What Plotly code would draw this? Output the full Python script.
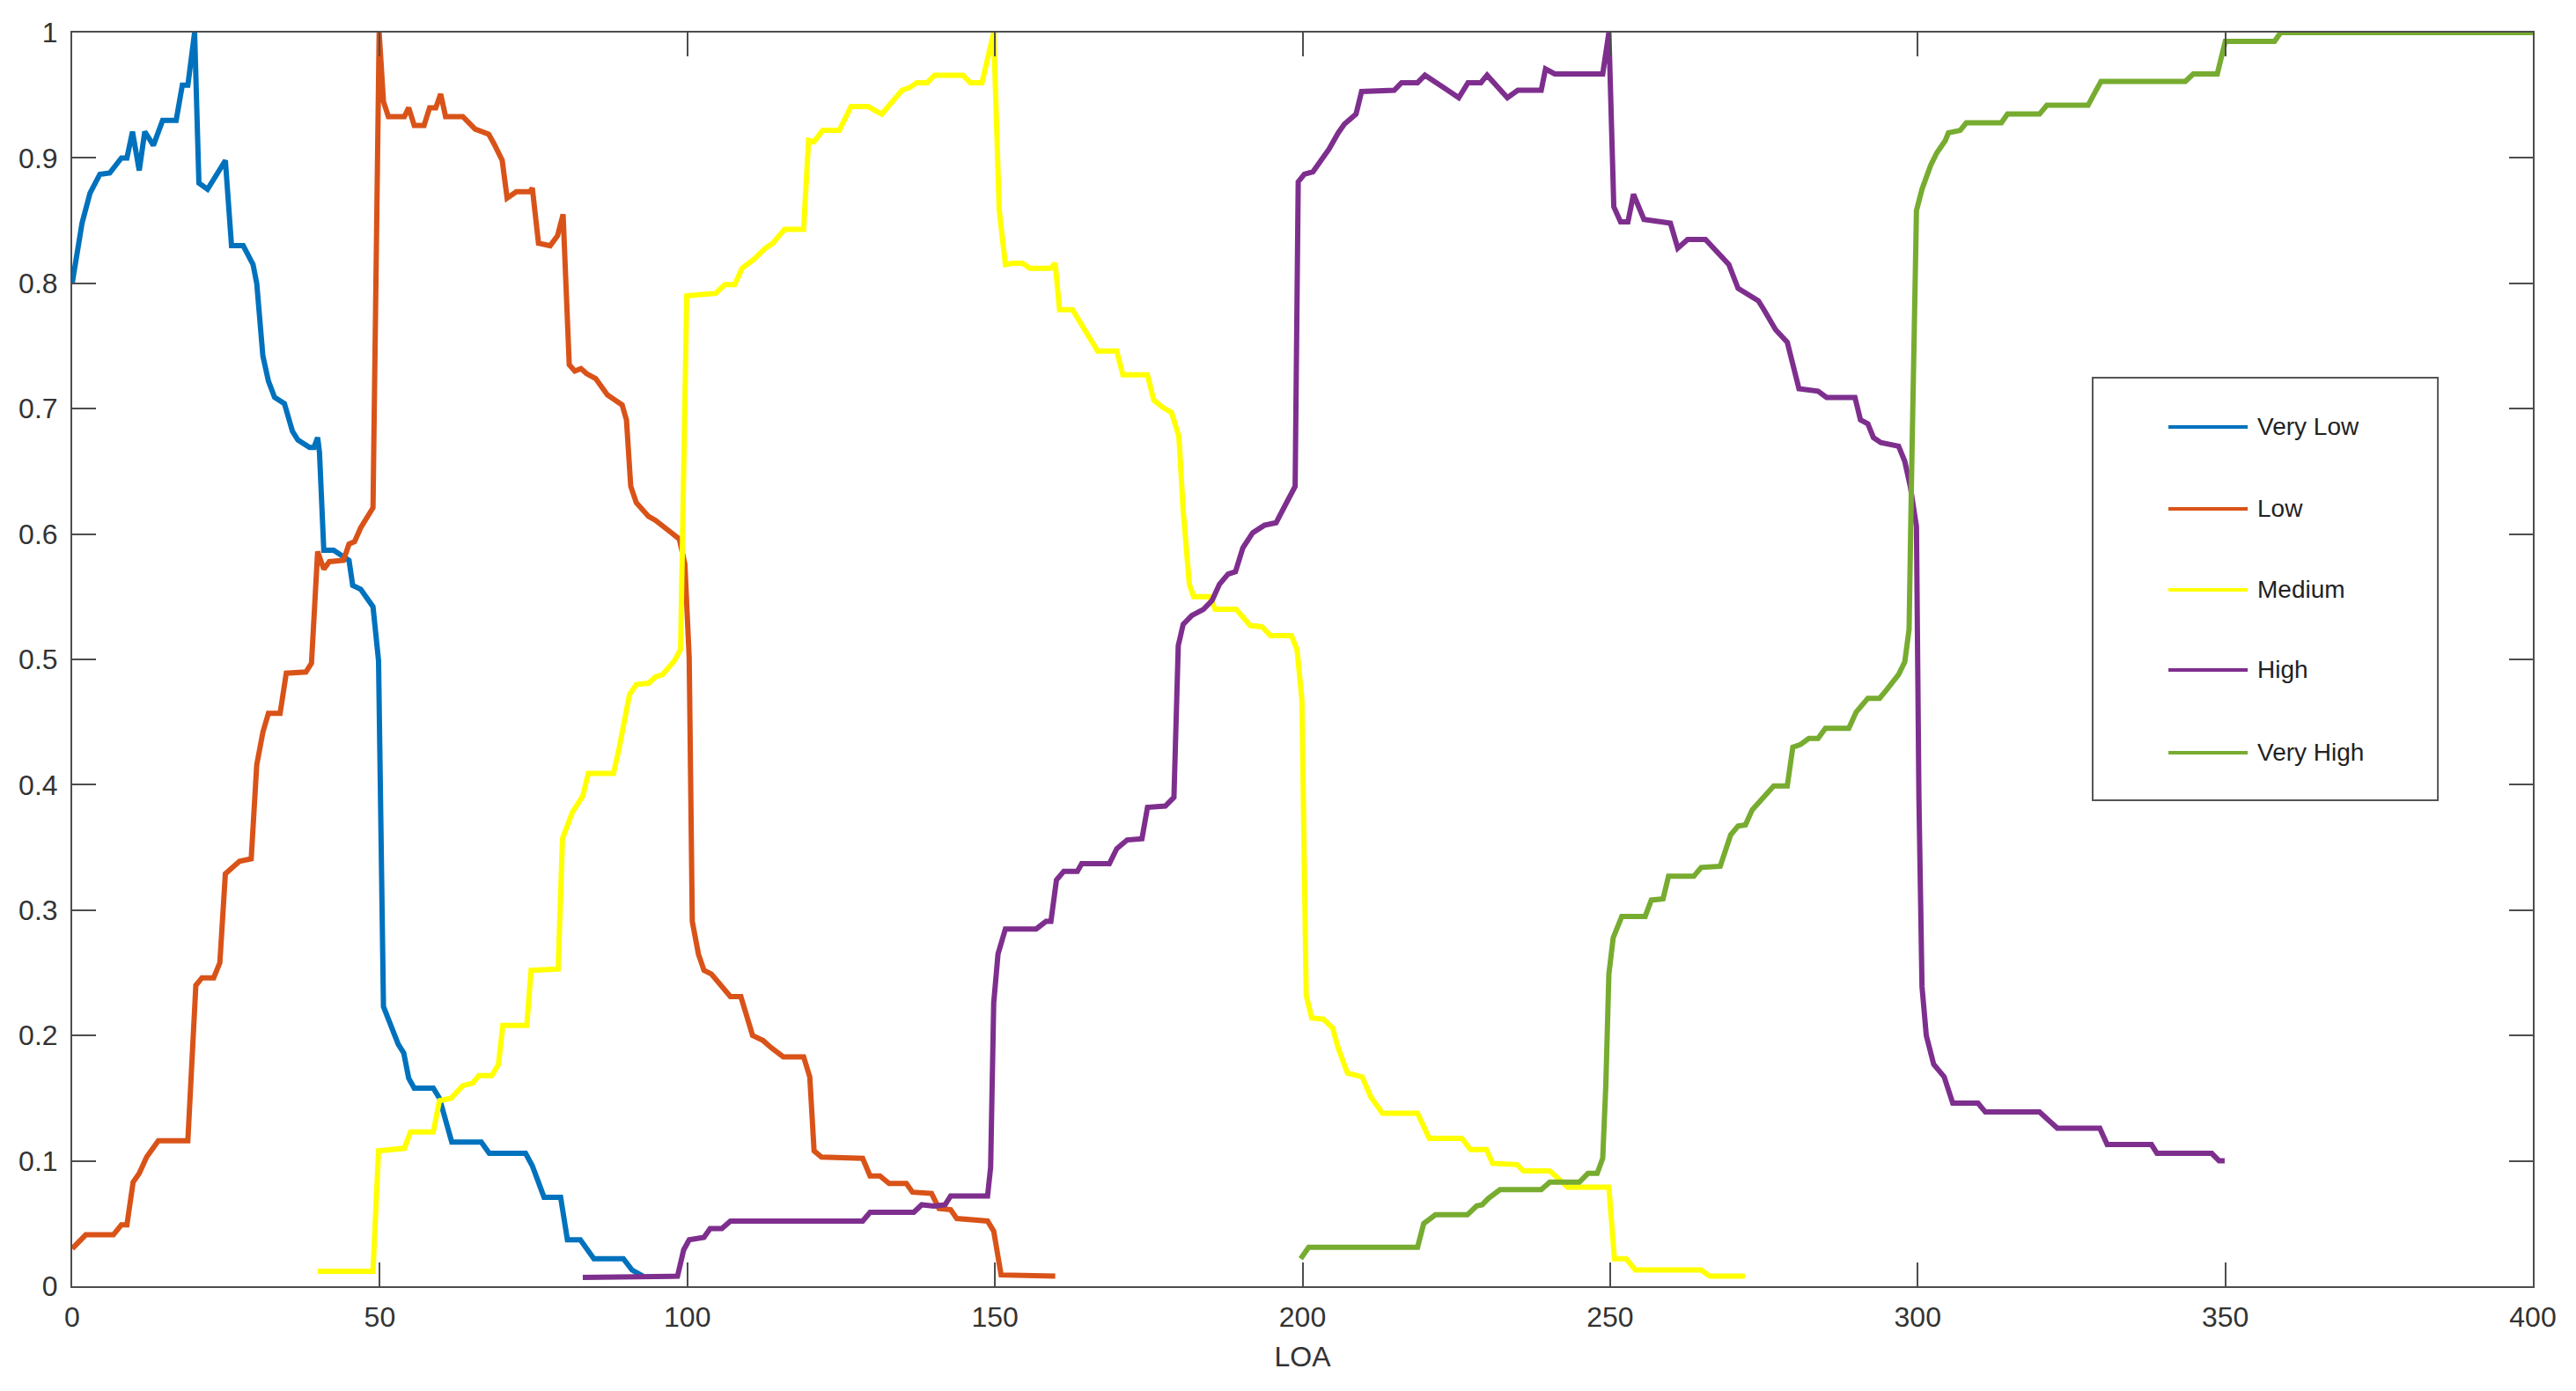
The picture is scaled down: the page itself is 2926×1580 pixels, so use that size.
import plotly.graph_objects as go

# membership curves
very_low_x = [0, 1.6, 2.9, 4.5, 6.1, 8.0, 8.9, 9.8, 10.9, 11.8, 13.2, 14.7, 16.9, 17.9, 18.8, 19.9, 20.6, 22.0, 24.9, 25.9,
              27.8, 29.4, 30.0, 31.0, 31.9, 32.9, 34.5, 35.8, 36.7, 38.6, 39.3, 39.9, 40.2, 40.9, 42.5, 45.0, 45.6, 46.9, 48.9, 49.8,
              50.6, 51.7, 53.0, 53.9, 54.7, 55.6, 58.7, 59.7, 60.7, 61.7, 66.5, 67.8, 73.7, 74.8, 76.7, 79.4, 80.5, 82.6, 84.8, 89.6,
              91.0, 92.8]
very_low_y = [0.80, 0.848, 0.872, 0.887, 0.888, 0.90, 0.90, 0.921, 0.89, 0.921, 0.91, 0.93, 0.93, 0.958, 0.958, 1.0, 0.88, 0.875, 0.898, 0.83,
              0.83, 0.815, 0.80, 0.742, 0.722, 0.709, 0.704, 0.682, 0.675, 0.669, 0.669, 0.677, 0.665, 0.587, 0.587, 0.579, 0.559, 0.556, 0.542, 0.499,
              0.223, 0.21, 0.193, 0.186, 0.166, 0.158, 0.158, 0.15, 0.133, 0.115, 0.115, 0.106, 0.106, 0.096, 0.071, 0.071, 0.037, 0.037, 0.022, 0.022,
              0.013, 0.008]

low_x = [0, 2.2, 6.7, 8.0, 8.9, 9.9, 10.9, 12.1, 14.0, 18.8,
         20.1, 21.1, 23.0, 24.0, 24.9, 27.2, 29.1, 30.0, 31.0, 31.9,
         33.8, 34.8, 38.0, 38.9, 39.9, 40.9, 41.8, 44.1, 45.0, 45.9,
         46.9, 48.9, 49.9, 50.6, 51.4, 54.0, 54.7, 55.6, 57.2, 58.1,
         59.1, 59.9, 60.7, 63.5, 65.5, 67.7, 68.6, 69.9, 70.7, 72.2,
         74.4, 74.8, 75.8, 77.7, 78.9, 79.8, 80.8, 81.7, 82.7, 83.6,
         85.1, 87.0, 88.2, 89.4, 90.1, 90.8, 91.7, 93.7, 94.8, 96.0,
         97.9, 98.7, 99.6, 100.3, 100.8, 101.8, 102.7, 103.9, 107.0, 108.7,
         110.6, 112.3, 113.7, 115.6, 118.9, 119.9, 120.6, 121.8, 128.5, 129.7,
         131.3, 132.8, 135.6, 136.6, 139.7, 140.9, 142.8, 143.8, 148.8, 149.8,
         151.0, 159.8]
low_y = [0.03, 0.041, 0.041, 0.049, 0.049, 0.083, 0.09, 0.103, 0.116, 0.116,
         0.24, 0.246, 0.246, 0.258, 0.329, 0.339, 0.341, 0.416, 0.442, 0.457,
         0.457, 0.489, 0.49, 0.497, 0.586, 0.572, 0.578, 0.579, 0.592, 0.594,
         0.605, 0.621, 1.0, 0.945, 0.933, 0.933, 0.94, 0.926, 0.926, 0.94,
         0.94, 0.951, 0.933, 0.933, 0.923, 0.919, 0.911, 0.898, 0.868, 0.873,
         0.873, 0.876, 0.832, 0.83, 0.838, 0.855, 0.735, 0.73, 0.732, 0.728,
         0.724, 0.711, 0.707, 0.703, 0.691, 0.638, 0.625, 0.614, 0.611, 0.606,
         0.599, 0.596, 0.576, 0.501, 0.291, 0.265, 0.252, 0.249, 0.231, 0.231,
         0.20, 0.196, 0.19, 0.183, 0.183, 0.167, 0.108, 0.103, 0.102, 0.088,
         0.088, 0.082, 0.082, 0.075, 0.074, 0.062, 0.061, 0.054, 0.052, 0.044,
         0.009, 0.008]

medium_x = [39.9, 48.9, 49.8, 54.0, 55.0, 58.7, 59.7, 61.6, 63.5, 65.1,
            66.1, 68.2, 69.3, 70.0, 73.9, 74.6, 79.0, 79.7, 81.3, 83.0,
            83.9, 88.0, 88.9, 90.6, 91.7, 93.7, 94.8, 96.0, 97.9, 98.9,
            99.9, 104.6, 106.1, 107.7, 108.9, 110.8, 112.7, 113.9, 115.8, 118.9,
            119.7, 120.6, 122.0, 124.7, 126.6, 129.4, 131.6, 133.7, 134.9, 136.1,
            137.3, 139.0, 140.2, 144.8, 146.0, 147.9, 148.8, 149.8, 150.7, 151.7,
            152.9, 154.5, 155.7, 159.1, 159.8, 160.5, 162.6, 165.3, 166.7, 169.8,
            170.8, 174.8, 175.8, 177.3, 178.7, 179.9, 180.6, 181.6, 182.3, 184.9,
            185.8, 189.2, 191.5, 193.4, 194.8, 198.2, 199.1, 199.9, 200.6, 201.5,
            203.4, 204.9, 205.8, 207.3, 209.7, 211.1, 213.0, 218.7, 220.6, 225.9,
            227.3, 229.9, 230.9, 234.9, 235.9, 240.2, 243.1, 249.8, 250.7, 252.6,
            254.1, 264.8, 266.2, 271.9]
medium_y = [0.012, 0.012, 0.108, 0.11, 0.123, 0.123, 0.148, 0.15, 0.16, 0.162,
            0.168, 0.168, 0.177, 0.208, 0.208, 0.252, 0.253, 0.357, 0.378, 0.391,
            0.409, 0.409, 0.429, 0.472, 0.48, 0.481, 0.486, 0.488, 0.499, 0.508,
            0.79, 0.792, 0.799, 0.799, 0.812, 0.819, 0.828, 0.832, 0.843, 0.843,
            0.914, 0.913, 0.922, 0.922, 0.941, 0.941, 0.935, 0.948, 0.954, 0.956,
            0.96, 0.96, 0.966, 0.966, 0.96, 0.96, 0.979, 1.0, 0.858, 0.815,
            0.816, 0.816, 0.812, 0.812, 0.816, 0.779, 0.779, 0.756, 0.746, 0.746,
            0.727, 0.727, 0.707, 0.701, 0.697, 0.678, 0.619, 0.56, 0.55, 0.55,
            0.54, 0.54, 0.527, 0.526, 0.519, 0.519, 0.508, 0.468, 0.232, 0.214,
            0.213, 0.206, 0.19, 0.17, 0.167, 0.151, 0.138, 0.138, 0.118, 0.118,
            0.109, 0.109, 0.098, 0.097, 0.092, 0.092, 0.079, 0.079, 0.022, 0.022,
            0.013, 0.013, 0.008, 0.008]

high_x = [83.0, 98.4, 99.4, 100.3, 102.7, 103.7, 105.6, 107.0, 128.5, 129.7,
          136.8, 138.1, 140.1, 141.9, 142.8, 148.8, 149.3, 149.8, 150.5, 151.7,
          156.7, 158.3, 159.1, 160.0, 161.2, 163.4, 164.1, 168.6, 169.8, 171.5,
          173.9, 174.8, 177.7, 179.1, 179.8, 180.6, 182.0, 183.9, 185.3, 186.5,
          187.9, 189.1, 190.3, 191.9, 193.8, 195.7, 197.4, 198.8, 199.3, 200.3,
          201.7, 204.3, 205.8, 206.8, 208.7, 209.6, 214.9, 216.1, 218.7, 219.9,
          223.0, 225.4, 226.9, 229.0, 230.0, 233.3, 235.0, 238.8, 239.5, 241.0,
          248.8, 249.8, 250.6, 251.7, 252.9, 253.8, 255.5, 259.8, 261.0, 262.6,
          265.5, 266.9, 269.3, 270.8, 272.2, 274.1, 275.0, 276.9, 278.8, 279.7,
          280.7, 283.8, 285.2, 289.8, 290.7, 291.9, 292.8, 294.0, 296.9, 297.9,
          298.8, 299.8, 300.2, 300.7, 301.4, 302.6, 304.3, 305.7, 309.8, 311.0,
          319.8, 322.7, 329.6, 330.8, 338.0, 338.9, 347.8, 349.0, 349.9]
high_y = [0.007, 0.008, 0.029, 0.037, 0.039, 0.046, 0.046, 0.052, 0.052, 0.059,
          0.059, 0.065, 0.064, 0.065, 0.072, 0.072, 0.095, 0.226, 0.265, 0.285,
          0.285, 0.291, 0.291, 0.324, 0.331, 0.331, 0.337, 0.337, 0.349, 0.356,
          0.357, 0.382, 0.383, 0.39, 0.511, 0.528, 0.535, 0.54, 0.547, 0.56,
          0.568, 0.57, 0.589, 0.601, 0.607, 0.609, 0.625, 0.638, 0.881, 0.887,
          0.889, 0.907, 0.92, 0.927, 0.935, 0.953, 0.954, 0.96, 0.96, 0.966,
          0.956, 0.948, 0.96, 0.96, 0.966, 0.948, 0.954, 0.954, 0.971, 0.967,
          0.967, 1.0, 0.861, 0.849, 0.849, 0.871, 0.851, 0.848, 0.828, 0.835,
          0.835, 0.828, 0.815, 0.796, 0.792, 0.786, 0.779, 0.763, 0.753, 0.737,
          0.716, 0.714, 0.709, 0.709, 0.691, 0.688, 0.677, 0.673, 0.67, 0.658,
          0.638, 0.606, 0.39, 0.239, 0.2, 0.177, 0.167, 0.146, 0.146, 0.139,
          0.139, 0.126, 0.126, 0.113, 0.113, 0.106, 0.106, 0.1, 0.1]

very_high_x = [199.7, 201.0, 218.7, 219.7, 221.6, 226.8, 228.3, 229.2, 230.2, 232.1,
               238.8, 240.2, 245.0, 246.4, 247.9, 248.8, 249.3, 249.8, 250.5, 251.9,
               255.7, 256.7, 258.6, 259.5, 263.6, 264.8, 267.9, 269.6, 270.8, 272.0,
               273.1, 276.6, 278.8, 279.7, 280.9, 282.3, 283.8, 285.0, 288.8, 290.0,
               291.9, 293.8, 295.0, 296.9, 297.9, 298.6, 299.0, 299.8, 300.7, 302.1,
               303.1, 304.5, 305.0, 306.9, 307.9, 313.6, 314.6, 319.8, 321.0, 327.7,
               328.9, 329.8, 343.5, 344.8, 348.7, 349.7, 350.0, 358.0, 359.0, 400.0]
very_high_y = [0.022, 0.031, 0.031, 0.05, 0.057, 0.057, 0.064, 0.065, 0.07, 0.077,
               0.077, 0.083, 0.083, 0.09, 0.09, 0.102, 0.16, 0.249, 0.278, 0.295,
               0.295, 0.308, 0.309, 0.327, 0.327, 0.334, 0.335, 0.36, 0.367, 0.368,
               0.38, 0.399, 0.399, 0.43, 0.432, 0.437, 0.437, 0.445, 0.445, 0.458,
               0.469, 0.469, 0.476, 0.488, 0.498, 0.524, 0.645, 0.858, 0.875, 0.894,
               0.904, 0.914, 0.92, 0.922, 0.928, 0.928, 0.935, 0.935, 0.942, 0.942,
               0.953, 0.961, 0.961, 0.967, 0.967, 0.985, 0.993, 0.993, 1.0, 1.0]

names = ["Very Low", "Low", "Medium", "High", "Very High"]
colors = ["#0072BD", "#D95319", "#FFFF00", "#7E2F8E", "#77AC30"]
xs = [very_low_x, low_x, medium_x, high_x, very_high_x]
ys = [very_low_y, low_y, medium_y, high_y, very_high_y]

x_ticks = [0, 50, 100, 150, 200, 250, 300, 350, 400]
y_ticks = [0, 0.1, 0.2, 0.3, 0.4, 0.5, 0.6, 0.7, 0.8, 0.9, 1]
y_labels = ["0", "0.1", "0.2", "0.3", "0.4", "0.5", "0.6", "0.7", "0.8", "0.9", "1"]

fig = go.Figure()
for name, col, x, y in zip(names, colors, xs, ys):
    fig.add_trace(go.Scatter(x=x, y=y, mode="lines", name=name,
                             line=dict(color=col, width=6), showlegend=False))

# legend drawn by hand, MATLAB style (long line samples)
shapes = [dict(type="rect", xref="paper", yref="paper", x0=0.8211, x1=0.9614, y0=0.3876, y1=0.7247,
               line=dict(color="#555555", width=2), fillcolor="white", layer="above")]
annotations = []
rows = [0.6854, 0.6201, 0.5555, 0.4916, 0.4256]
for name, col, ry in zip(names, colors, rows):
    shapes.append(dict(type="line", xref="paper", yref="paper", x0=0.8519, x1=0.8841, y0=ry, y1=ry,
                       line=dict(color=col, width=4), layer="above"))
    annotations.append(dict(xref="paper", yref="paper", x=0.8873, y=ry, text=name, showarrow=False,
                            xanchor="left", yanchor="middle", font=dict(size=28, color="#222222")))

axis_common = dict(showgrid=False, zeroline=False, showline=True, linecolor="#4d4d4d", linewidth=2,
                   mirror="ticks", ticks="inside", ticklen=27, tickwidth=2, tickcolor="#4d4d4d",
                   tickfont=dict(size=32, color="#333333"), automargin=False)

# page body has an 8px margin, so margins are offset to land the plot box where the original has it
fig.update_layout(
    width=2926, height=1580,
    margin=dict(l=74, r=57, t=29, b=127),
    paper_bgcolor="white", plot_bgcolor="white",
    font=dict(family="Liberation Sans, Arial, sans-serif", color="#333333"),
    xaxis=dict(range=[0, 400], tickvals=x_ticks, ticklabelstandoff=6,
               title=dict(text="LOA", font=dict(size=32), standoff=16), **axis_common),
    yaxis=dict(range=[0, 1], tickvals=y_ticks, ticktext=y_labels, ticklabelstandoff=8, **axis_common),
    shapes=shapes,
    annotations=annotations,
)

fig.write_html("out.html")
